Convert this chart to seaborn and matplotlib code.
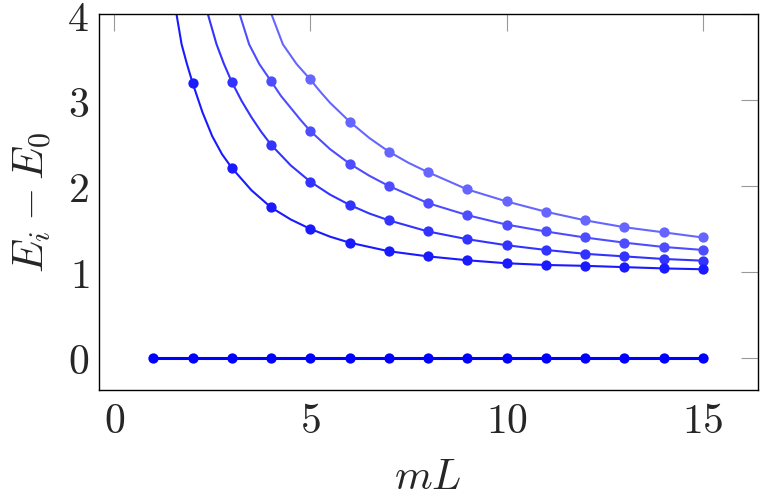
import numpy as np
import pandas as pd
import matplotlib
matplotlib.use('Agg')
import matplotlib.pyplot as plt
import seaborn as sns

# data
mL = [1, 2, 3, 4, 5, 6, 7, 8, 9, 10, 11, 12, 13, 14, 15]
gap0 = [0, 0, 0, 0, 0, 0, 0, 0, 0, 0, 0, 0, 0, 0, 0]

mL1 = [2, 3, 4, 5, 6, 7, 8, 9, 10, 11, 12, 13, 14, 15]
gap1 = [3.20, 2.21, 1.75, 1.50, 1.34, 1.24, 1.18, 1.135, 1.10, 1.08, 1.07, 1.055, 1.04, 1.03]
mL2 = [3, 4, 5, 6, 7, 8, 9, 10, 11, 12, 13, 14, 15]
gap2 = [3.21, 2.48, 2.05, 1.78, 1.60, 1.47, 1.38, 1.31, 1.255, 1.21, 1.18, 1.15, 1.13]
mL3 = [4, 5, 6, 7, 8, 9, 10, 11, 12, 13, 14, 15]
gap3 = [3.22, 2.64, 2.26, 2.00, 1.80, 1.66, 1.55, 1.47, 1.40, 1.34, 1.29, 1.255]
mL4 = [5, 6, 7, 8, 9, 10, 11, 12, 13, 14, 15]
gap4 = [3.24, 2.75, 2.40, 2.16, 1.96, 1.82, 1.70, 1.60, 1.52, 1.46, 1.40]

# extra points on the smooth curves (between the markers, up to the top edge)
curve1_x = [1.59, 1.72, 1.85, 2.25, 2.5, 2.75, 3.5, 4.5, 5.5]
curve1_y = [4.0, 3.65, 3.43, 2.86, 2.58, 2.37, 1.95, 1.61, 1.41]
curve2_x = [2.39, 2.61, 2.8, 3.25, 3.5, 3.75, 4.5, 5.5, 6.5]
curve2_y = [4.0, 3.65, 3.42, 2.99, 2.80, 2.63, 2.24, 1.90, 1.68]
curve3_x = [3.20, 3.44, 3.7, 4.25, 4.5, 4.75, 5.5, 6.5]
curve3_y = [4.0, 3.65, 3.42, 3.05, 2.91, 2.77, 2.43, 2.12]
curve4_x = [4.01, 4.30, 4.65, 5.25, 5.5, 5.75, 6.5, 7.5]
curve4_y = [4.0, 3.65, 3.42, 3.10, 2.97, 2.86, 2.56, 2.27]

colors = ['#0000ff', '#1a1aff', '#3333ff', '#4d4dff', '#6666ff']
xtick_vals = [0, 5, 10, 15]
ytick_vals = [0, 1, 2, 3, 4]

sns.set_style('white')
plt.rcParams['mathtext.fontset'] = 'cm'
plt.rcParams['font.family'] = ['DejaVu Serif']

fig = plt.figure(figsize=(7.6, 4.91), dpi=100)
ax = fig.add_axes([0.130, 0.205, 0.867, 0.766])

markers = [(mL, gap0), (mL1, gap1), (mL2, gap2), (mL3, gap3), (mL4, gap4)]
extras = [([], []), (curve1_x, curve1_y), (curve2_x, curve2_y),
          (curve3_x, curve3_y), (curve4_x, curve4_y)]

for i in range(4, -1, -1):
    mx, my = markers[i]
    ex, ey = extras[i]
    line = pd.DataFrame({'x': list(mx) + list(ex), 'y': list(my) + list(ey)})
    line = line.sort_values('x')
    sns.lineplot(data=line, x='x', y='y', ax=ax, color=colors[i],
                 lw=2.2 if i == 0 else 1.5, sort=True, estimator=None,
                 zorder=2)
    sns.scatterplot(x=mx, y=my, ax=ax, color=colors[i], s=55,
                    linewidth=0, zorder=3)

ax.set_xlim(-0.39, 16.4)
ax.set_ylim(-0.38, 4.0)
ax.set_xticks(xtick_vals)
ax.set_xticklabels([f'${v}$' for v in xtick_vals])
ax.set_yticks(ytick_vals)
ax.set_yticklabels([f'${v}$' for v in ytick_vals])
ax.tick_params(direction='in', length=12, width=0.8, color='#999999',
               labelsize=30, top=True, right=True, pad=7)
for s in ax.spines.values():
    s.set_color('black')
    s.set_linewidth(1.0)

ax.set_xlabel('$mL$', fontsize=31, labelpad=10)
ax.set_ylabel('$E_i - E_0$', fontsize=31, labelpad=10)

fig.savefig('out.png', dpi=100)
